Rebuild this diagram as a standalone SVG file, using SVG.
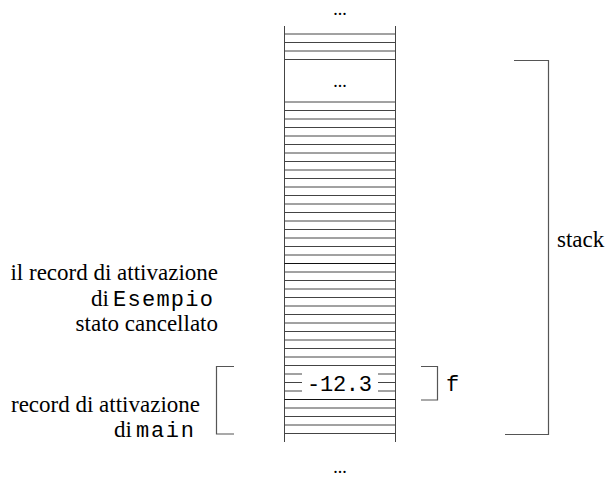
<svg xmlns="http://www.w3.org/2000/svg" width="615" height="477" viewBox="0 0 615 477">
<style>
.ln{stroke:#444;stroke-width:1;fill:none}
.dk{stroke:#111;stroke-width:1.2;fill:none}
.br{stroke:#555;stroke-width:1.2;fill:none}
.sr{font-family:"Liberation Serif","Times New Roman","DejaVu Serif",serif;font-size:23px;fill:#000}
.mo{font-family:"Liberation Mono","Courier New","DejaVu Sans Mono",monospace;font-size:22px;fill:#000}
.dots{font-family:"Liberation Serif","DejaVu Serif",serif;font-size:18px;fill:#000;text-anchor:middle}
</style>
<g id="stack-column">
<line class="ln" x1="284.5" y1="26" x2="284.5" y2="442"/>
<line class="ln" x1="395.5" y1="26" x2="395.5" y2="442"/>
<g id="top-rows">
<line class="ln" x1="284.5" y1="34" x2="395.5" y2="34"/>
<line class="ln" x1="284.5" y1="42.5" x2="395.5" y2="42.5"/>
<line class="ln" x1="284.5" y1="51" x2="395.5" y2="51"/>
<line class="ln" x1="284.5" y1="59.5" x2="395.5" y2="59.5"/>
</g>
<g id="rows">
<line class="ln" x1="284.5" y1="102" x2="395.5" y2="102"/>
<line class="ln" x1="284.5" y1="110.5" x2="395.5" y2="110.5"/>
<line class="ln" x1="284.5" y1="119" x2="395.5" y2="119"/>
<line class="ln" x1="284.5" y1="127.5" x2="395.5" y2="127.5"/>
<line class="ln" x1="284.5" y1="136" x2="395.5" y2="136"/>
<line class="ln" x1="284.5" y1="144.5" x2="395.5" y2="144.5"/>
<line class="ln" x1="284.5" y1="153" x2="395.5" y2="153"/>
<line class="ln" x1="284.5" y1="161.5" x2="395.5" y2="161.5"/>
<line class="ln" x1="284.5" y1="170" x2="395.5" y2="170"/>
<line class="ln" x1="284.5" y1="178.5" x2="395.5" y2="178.5"/>
<line class="ln" x1="284.5" y1="187" x2="395.5" y2="187"/>
<line class="ln" x1="284.5" y1="195.5" x2="395.5" y2="195.5"/>
<line class="ln" x1="284.5" y1="204" x2="395.5" y2="204"/>
<line class="ln" x1="284.5" y1="212.5" x2="395.5" y2="212.5"/>
<line class="ln" x1="284.5" y1="221" x2="395.5" y2="221"/>
<line class="ln" x1="284.5" y1="229.5" x2="395.5" y2="229.5"/>
<line class="ln" x1="284.5" y1="238" x2="395.5" y2="238"/>
<line class="ln" x1="284.5" y1="246.5" x2="395.5" y2="246.5"/>
<line class="ln" x1="284.5" y1="255" x2="395.5" y2="255"/>
<line class="dk" x1="284.5" y1="263.5" x2="395.5" y2="263.5"/>
<line class="ln" x1="284.5" y1="272" x2="395.5" y2="272"/>
<line class="ln" x1="284.5" y1="280.5" x2="395.5" y2="280.5"/>
<line class="ln" x1="284.5" y1="289" x2="395.5" y2="289"/>
<line class="ln" x1="284.5" y1="297.5" x2="395.5" y2="297.5"/>
<line class="ln" x1="284.5" y1="306" x2="395.5" y2="306"/>
<line class="ln" x1="284.5" y1="314.5" x2="395.5" y2="314.5"/>
<line class="ln" x1="284.5" y1="323" x2="395.5" y2="323"/>
<line class="ln" x1="284.5" y1="331.5" x2="395.5" y2="331.5"/>
<line class="ln" x1="284.5" y1="340" x2="395.5" y2="340"/>
<line class="ln" x1="284.5" y1="348.5" x2="395.5" y2="348.5"/>
<line class="ln" x1="284.5" y1="357" x2="395.5" y2="357"/>
<line class="ln" x1="284.5" y1="365.5" x2="395.5" y2="365.5"/>
<line class="ln" x1="284.5" y1="374" x2="302" y2="374"/>
<line class="ln" x1="378" y1="374" x2="395.5" y2="374"/>
<line class="ln" x1="284.5" y1="382.5" x2="302" y2="382.5"/>
<line class="ln" x1="378" y1="382.5" x2="395.5" y2="382.5"/>
<line class="ln" x1="284.5" y1="391" x2="302" y2="391"/>
<line class="ln" x1="378" y1="391" x2="395.5" y2="391"/>
<line class="dk" x1="284.5" y1="399.5" x2="395.5" y2="399.5"/>
<line class="ln" x1="284.5" y1="408" x2="395.5" y2="408"/>
<line class="ln" x1="284.5" y1="416.5" x2="395.5" y2="416.5"/>
<line class="ln" x1="284.5" y1="425" x2="395.5" y2="425"/>
<line class="ln" x1="284.5" y1="433.5" x2="395.5" y2="433.5"/>
</g>
</g>
<g id="value-cell">
<text class="mo" x="307" y="391" textLength="65" lengthAdjust="spacing">-12.3</text>
</g>
<g id="dots-top"><text class="dots" x="340" y="15">...</text></g>
<g id="dots-mid"><text class="dots" x="340" y="87">...</text></g>
<g id="dots-bottom"><text class="dots" x="340" y="473">...</text></g>
<g id="brackets">
<polyline class="br" points="514,60.5 548.5,60.5 548.5,434.5 505,434.5"/>
<polyline class="br" points="421,366.5 437.5,366.5 437.5,400 421,400"/>
<polyline class="br" points="234,366.5 216.5,366.5 216.5,434 234,434"/>
</g>
<g id="label-stack"><text class="sr" x="557" y="247">stack</text></g>
<g id="label-f"><text class="mo" x="446" y="391">f</text></g>
<g id="label-esempio">
<text class="sr" x="218" y="280" text-anchor="end">il record di attivazione</text>
<text class="sr" x="109" y="306" text-anchor="end">di</text>
<text class="mo" x="113" y="306" textLength="100" lengthAdjust="spacing">Esempio</text>
<text class="sr" x="218" y="331" text-anchor="end">stato cancellato</text>
</g>
<g id="label-main">
<text class="sr" x="200" y="412" text-anchor="end">record di attivazione</text>
<text class="sr" x="132" y="437" text-anchor="end">di</text>
<text class="mo" x="136" y="437" textLength="58" lengthAdjust="spacing">main</text>
</g>
</svg>
